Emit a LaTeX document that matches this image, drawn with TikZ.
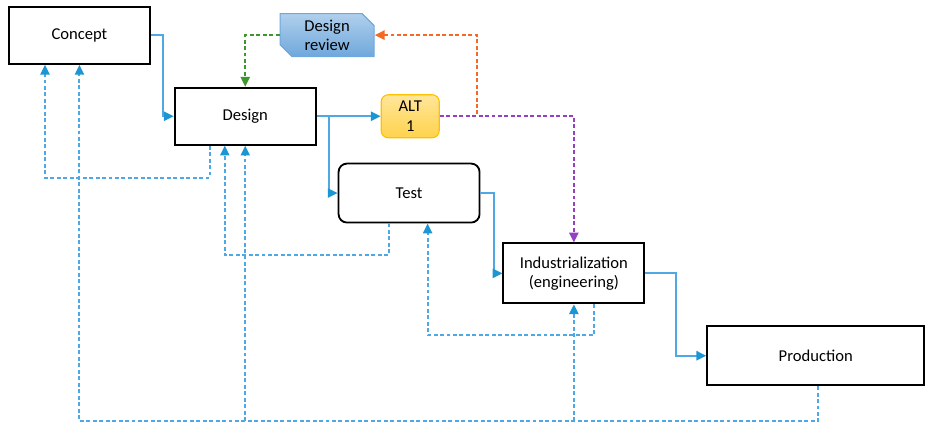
\documentclass[tikz,border=0pt]{standalone}
\usepackage{fontspec}
\setmainfont{Carlito}
\usepackage{tikz}
\usetikzlibrary{arrows.meta, positioning, shapes.misc}
\definecolor{flowcol}{HTML}{4FA8E3}
\definecolor{tipcol}{HTML}{1C96D2}
\definecolor{reviewcol}{HTML}{6FA8DC}
\definecolor{altcol}{HTML}{FFC000}
\definecolor{greencol}{HTML}{3E962E}
\definecolor{orangecol}{HTML}{F26B21}
\definecolor{purplecol}{HTML}{9440C0}

\begin{document}
\begin{tikzpicture}[
  box/.style={draw, line width=1.3pt, minimum width=3.525cm, minimum height=1.425cm,
    inner sep=0pt, align=center, font=\fontsize{11.8}{13.8}\selectfont},
  flow/.style={draw=flowcol, line width=1.4pt,
    -{Triangle[length=7pt, width=6.5pt, color=tipcol]}},
  fb/.style={flow, dash pattern=on 2.8pt off 1.8pt},
  cue/.style={line width=1.4pt, dash pattern=on 2.8pt off 1.8pt,
    -{Triangle[length=7pt, width=6.5pt]}},
]
\useasboundingbox (0,0) rectangle (23.15,-10.575);

% Main chain of phases
\node[box, anchor=north west] (concept) at (0.2,-0.15) {Concept};
\node[box, below right=0.55cm and 0.575cm of concept] (design) {Design};
\node[box, rounded corners=6pt, minimum height=1.475cm,
      below right=0.425cm and 0.525cm of design] (test) {Test};
\node[box, minimum height=1.5cm, below right=0.475cm and 0.55cm of test] (ind)
  {Industrialization\\(engineering)};
\node[box, minimum width=5.425cm, minimum height=1.475cm,
      below right=0.525cm and 1.525cm of ind] (prod) {Production};

% Alternative and review
\node[box, draw=altcol, line width=0.8pt, rounded corners=5pt,
      top color=altcol!40, bottom color=altcol!70,
      minimum width=1.45cm, minimum height=1.075cm, right=1.6cm of design] (alt) {ALT\\1};
\node[box, chamfered rectangle, chamfered rectangle corners={north east, south west},
      chamfered rectangle xsep=0.15cm, chamfered rectangle ysep=0.15cm,
      draw=reviewcol, line width=0.8pt, top color=reviewcol!55, bottom color=reviewcol,
      minimum width=2.35cm, minimum height=1.075cm,
      above left=0.925cm and 0.15cm of alt] (review) {Design\\review};

% forward flow
\draw[flow] (concept.east) -- ++(0.3,0) |- (design.west);
\draw[flow] (design.east) -- (alt.west);
\draw[flow] (design.east) -- ++(0.3,0) |- (test.west);
\draw[flow] (test.east) -- ++(0.34,0) |- (ind.west);
\draw[flow] (ind.east) -- ++(0.775,0) |- (prod.west);

% feedback to previous phase
\draw[fb] ([xshift=0.9cm]design.south west) -- ++(0,-0.8) -| ([xshift=0.925cm]concept.south west);
\draw[fb] ([xshift=1.275cm]test.south west) -- ++(0,-0.8) -| ([xshift=1.275cm]design.south west);
\draw[fb] ([xshift=2.29cm]ind.south west) -- ++(0,-0.775) -| ([xshift=2.25cm]test.south west);

% feedback from production
\draw[fb] ([xshift=2.8cm]prod.south west) -- ++(0,-0.875) coordinate (base) -| (concept.south);
\draw[fb] (design.south |- base) -- (design.south);
\draw[fb] (ind.south |- base) -- (ind.south);

% review loop and alternative
\draw[cue, draw=greencol] (review.west) -| (design.north);
\draw[cue, draw=orangecol] (alt.east) -- ++(0.925,0) |- (review.east);
\draw[cue, draw=purplecol] (alt.east) -| (ind.north);

\end{tikzpicture}
\end{document}
